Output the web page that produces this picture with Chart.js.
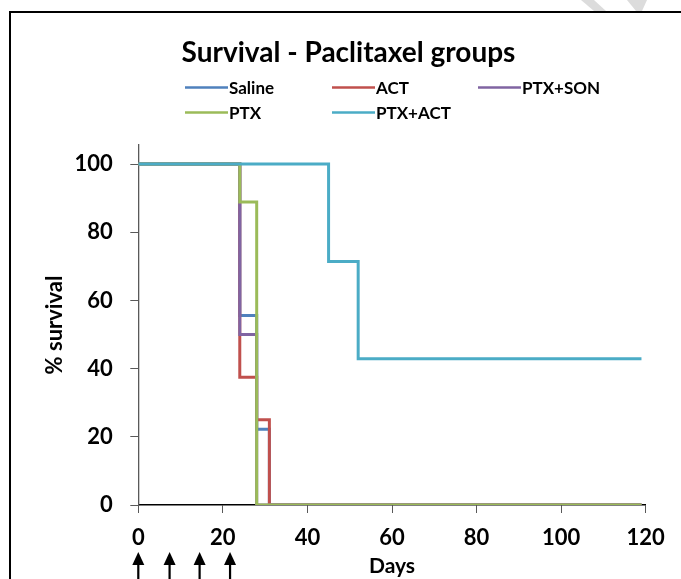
<!doctype html>
<html lang="en">
<head>
<meta charset="utf-8" />
<title>Survival - Paclitaxel groups</title>
<script src="https://cdn.jsdelivr.net/npm/chart.js"></script>
<style>
  html, body { margin: 0; padding: 0; background: #fff; overflow: hidden; }
  #wrap { position: relative; width: 681px; height: 579px; }
</style>
</head>
<body>
<div id="wrap"><canvas id="km" width="681" height="579"></canvas></div>
<script>
const FONT = 'Lato, "Liberation Sans", Arial, sans-serif';

const seriesNames = ["Saline", "ACT", "PTX+SON", "PTX", "PTX+ACT"];
const seriesColors = ["#4F81BD", "#C0504D", "#8064A2", "#9BBB59", "#4BACC6"];

// Kaplan-Meier steps: day of event -> % still alive after it
const salineDays = [0, 24, 28, 31, 119];
const salineSurv = [100, 55.6, 22.2, 0, 0];
const actDays = [0, 24, 28, 31, 119];
const actSurv = [100, 37.5, 25, 0, 0];
const ptxSonDays = [0, 24, 28, 119];
const ptxSonSurv = [100, 50, 0, 0];
const ptxDays = [0, 24, 28, 119];
const ptxSurv = [100, 88.9, 0, 0];
const ptxActDays = [0, 45, 52, 119];
const ptxActSurv = [100, 71.4, 42.9, 42.9];

const xTicks = [0, 20, 40, 60, 80, 100, 120];
const yTicks = [0, 20, 40, 60, 80, 100];
const injectionDays = [0, 7.4, 14.5, 21.7];

const allDays = [salineDays, actDays, ptxSonDays, ptxDays, ptxActDays];
const allSurv = [salineSurv, actSurv, ptxSonSurv, ptxSurv, ptxActSurv];

const datasets = seriesNames.map((name, i) => ({
  label: name,
  data: allDays[i].map((d, j) => ({ x: d, y: allSurv[i][j] })),
  borderColor: seriesColors[i],
  backgroundColor: seriesColors[i],
  borderWidth: 3,
  stepped: 'before',
  pointRadius: 0,
  fill: false,
  order: seriesNames.length - i // later series drawn on top, like Excel
}));

const decor = {
  id: 'decor',
  beforeDraw(chart) {
    const ctx = chart.ctx;
    ctx.save();
    // faint watermark pieces at the top right
    ctx.fillStyle = '#dcdcdc';
    ctx.beginPath();
    ctx.moveTo(581, 0); ctx.lineTo(594, 0); ctx.lineTo(606, 11); ctx.lineTo(594, 11);
    ctx.closePath(); ctx.fill();
    ctx.beginPath();
    ctx.moveTo(627, 0); ctx.lineTo(647, 0); ctx.lineTo(642, 11); ctx.lineTo(636, 11);
    ctx.closePath(); ctx.fill();
    // frame
    ctx.fillStyle = '#000';
    ctx.fillRect(9, 11, 681, 2);
    ctx.fillRect(9, 11, 2, 579);
    ctx.restore();
  },
  afterDraw(chart) {
    const ctx = chart.ctx;
    ctx.save();
    ctx.fillStyle = '#000';
    ctx.textAlign = 'center';
    ctx.textBaseline = 'alphabetic';
    ctx.font = 'bold 28px ' + FONT;
    ctx.fillText('Survival - Paclitaxel groups', 348.5, 62);

    ctx.font = 'bold 17px ' + FONT;
    ctx.textAlign = 'left';
    const colX = [185, 332, 478];
    const rowY = [87.5, 112.5];
    seriesNames.forEach((name, i) => {
      const x = colX[i % 3];
      const y = rowY[Math.floor(i / 3)];
      ctx.strokeStyle = seriesColors[i];
      ctx.lineWidth = 2.5;
      ctx.beginPath();
      ctx.moveTo(x, y);
      ctx.lineTo(x + 43, y);
      ctx.stroke();
      ctx.fillStyle = '#000';
      ctx.fillText(name, x + 44, y + 6);
    });

    // injection arrows under the day axis
    const xs = chart.scales.x;
    ctx.fillStyle = '#000';
    injectionDays.forEach(d => {
      const px = xs.getPixelForValue(d);
      ctx.beginPath();
      ctx.moveTo(px, 552);
      ctx.lineTo(px + 6, 565);
      ctx.lineTo(px - 6, 565);
      ctx.closePath();
      ctx.fill();
      ctx.fillRect(px - 1.1, 564, 2.2, 16);
    });
    ctx.restore();
  }
};

new Chart(document.getElementById('km'), {
  type: 'line',
  data: { datasets },
  plugins: [decor],
  options: {
    responsive: false,
    animation: false,
    layout: { padding: { top: 145, right: 35.3, bottom: 0, left: 0 } },
    plugins: { legend: { display: false }, title: { display: false }, tooltip: { enabled: false } },
    scales: {
      x: {
        type: 'linear', min: 0, max: 120,
        afterBuildTicks: s => { s.ticks = xTicks.map(v => ({ value: v })); },
        afterFit: s => { s.height = 74; },
        grid: { drawOnChartArea: false, drawTicks: true, tickLength: 8, color: '#595959' },
        border: { display: true, color: '#000', width: 1.5 },
        ticks: { color: '#000', font: { family: FONT, size: 22, weight: 'bold' }, padding: 12, maxRotation: 0, autoSkip: false },
        title: { display: true, text: 'Days', color: '#000', font: { family: FONT, size: 21, weight: 'bold' }, padding: 0 }
      },
      y: {
        type: 'linear', min: 0, max: 105.6,
        afterBuildTicks: s => { s.ticks = yTicks.map(v => ({ value: v })); },
        afterFit: s => { s.width = 138.3; },
        grid: { drawOnChartArea: false, drawTicks: true, tickLength: 8, color: '#595959' },
        border: { display: true, color: '#595959', width: 1.3 },
        ticks: { color: '#000', font: { family: FONT, size: 22, weight: 'bold' }, padding: 17.6, autoSkip: false },
        title: { display: true, text: '% survival', color: '#000', font: { family: FONT, size: 22, weight: 'bold' }, padding: { top: 42, bottom: 0 } }
      }
    }
  }
});
</script>
</body>
</html>
